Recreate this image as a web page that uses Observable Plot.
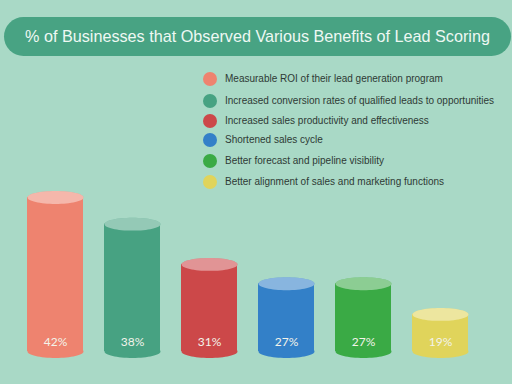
<!DOCTYPE html>
<html>
<head>
<meta charset="utf-8">
<script src="https://cdn.jsdelivr.net/npm/d3@7"></script>
<script src="https://cdn.jsdelivr.net/npm/@observablehq/plot@0.6"></script>
<style>
  html, body { margin: 0; padding: 0; background: #a9d9c6; }
  #wrap { position: relative; width: 512px; height: 384px; overflow: hidden; font-family: "Liberation Sans", Arial, sans-serif; }
  #chart { position: absolute; left: 0; top: 0; }
  #title { position: absolute; left: 4px; top: 17px; width: 507px; height: 39px; border-radius: 20px; background: #48a383;
           color: #eef8f3; font-size: 16.2px; line-height: 39px; text-align: center; white-space: nowrap; }
  #legend { position: absolute; left: 203px; top: 71px; }
  .row { position: absolute; left: 0; white-space: nowrap; height: 16px; }
  .sw { position: absolute; left: 0; top: 1px; width: 14px; height: 14px; border-radius: 7px; }
  .lb { position: absolute; left: 22px; top: 0; font-size: 10px; line-height: 16px; color: #2e3a35; }
</style>
</head>
<body>
<div id="wrap">
  <div id="chart"></div>
  <div id="title"></div>
  <div id="legend"></div>
</div>
<script>
const titleText = "% of Businesses that Observed Various Benefits of Lead Scoring";
const categories = [
  "Measurable ROI of their lead generation program",
  "Increased conversion rates of qualified leads to opportunities",
  "Increased sales productivity and effectiveness",
  "Shortened sales cycle",
  "Better forecast and pipeline visibility",
  "Better alignment of sales and marketing functions"
];
const values = [42, 38, 31, 27, 27, 19];
const colors = ["#ee836f", "#47a282", "#cc4849", "#3380c8", "#3aaa45", "#e0d45b"];
const legendRowTops = [0, 22, 42, 61, 82, 103];

const data = categories.map((c, i) => ({cat: c, value: values[i], label: values[i] + "%"}));

document.getElementById("title").textContent = titleText;
const legend = document.getElementById("legend");
categories.forEach((c, i) => {
  const row = document.createElement("div");
  row.className = "row";
  row.style.top = legendRowTops[i] + "px";
  row.innerHTML = `<div class="sw" style="background:${colors[i]}"></div><div class="lb"></div>`;
  row.querySelector(".lb").textContent = c;
  legend.appendChild(row);
});

// ellipse symbol (flattened circle) for the cylinder caps
const ellipse = {
  draw(context, size) {
    const r = Math.sqrt(size / Math.PI);
    const rx = r, ry = r * 0.23, k = 0.5523;
    context.moveTo(rx, 0);
    context.bezierCurveTo(rx, ry * k, rx * k, ry, 0, ry);
    context.bezierCurveTo(-rx * k, ry, -rx, ry * k, -rx, 0);
    context.bezierCurveTo(-rx, -ry * k, -rx * k, -ry, 0, -ry);
    context.bezierCurveTo(rx * k, -ry, rx, -ry * k, rx, 0);
    context.closePath();
  }
};

const chart = Plot.plot({
  width: 512,
  height: 384,
  marginLeft: 15,
  marginRight: 33,
  marginTop: 0,
  marginBottom: 0,
  style: {background: "transparent"},
  x: {domain: categories, paddingInner: 0.275, paddingOuter: 0.1375, axis: null},
  y: {type: "pow", exponent: 2, domain: [0, 42], range: [344, 197], axis: null},
  color: {domain: categories, range: colors},
  marks: [
    Plot.dot(data, {x: "cat", y: () => 0, dy: 7, r: 28, symbol: ellipse, fill: "cat"}),
    Plot.barY(data, {x: "cat", y: "value", fill: "cat", insetBottom: -7}),
    Plot.dot(data, {x: "cat", y: "value", r: 28, symbol: ellipse, fill: "cat"}),
    Plot.dot(data, {x: "cat", y: "value", r: 28, symbol: ellipse, fill: "white", fillOpacity: 0.42}),
    Plot.text(data, {x: "cat", y: () => 0, dy: -2, text: "label", fill: "#f3f3ea", fontSize: 12,
      fontFamily: "Lato, 'Liberation Sans', sans-serif"})
  ]
});
document.getElementById("chart").appendChild(chart);
</script>
</body>
</html>
